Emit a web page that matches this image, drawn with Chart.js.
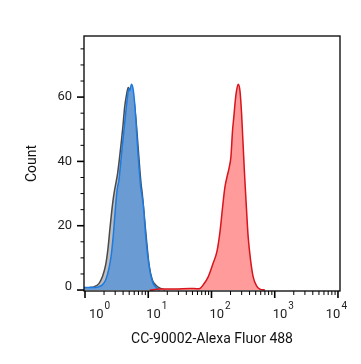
<!DOCTYPE html>
<html>
<head>
<meta charset="utf-8">
<script src="https://cdn.jsdelivr.net/npm/chart.js@4.4.1/dist/chart.umd.min.js"></script>
<style>
  body { margin: 0; background: #fff; }
</style>
</head>
<body>
<canvas id="histo" width="361" height="364"></canvas>
<script>
// unstained / isotype control (grey outline)
const grayX = [0.97, 1.20, 1.39, 1.66, 1.88, 2.12, 2.31, 2.48, 2.64, 2.80, 2.93, 3.06, 3.26, 3.51, 3.77, 3.98, 4.24, 4.56, 4.83, 5.05, 5.43, 5.94, 6.46, 6.88, 7.39, 7.75, 8.04, 8.55, 9.44, 10.3, 11.6, 13.1, 15.7, 18.4];
const grayY = [0.6, 0.8, 1.0, 2.0, 4.1, 7.8, 13, 19.2, 24.3, 28.5, 31, 33, 36, 41, 46.5, 51, 57, 61, 63, 62.5, 62, 59, 52, 45, 37, 32.5, 30, 24.3, 15, 7.8, 3.1, 1.6, 0.5, 0];

// negative cells (blue)
const blueX = [0.97, 1.29, 1.56, 1.88, 2.12, 2.39, 2.60, 2.80, 2.94, 3.12, 3.24, 3.44, 3.66, 3.88, 4.13, 4.40, 4.66, 4.90, 5.10, 5.43, 5.80, 6.10, 6.32, 6.56, 6.88, 7.21, 7.59, 7.95, 8.34, 9.10, 9.89, 10.9, 12.0, 13.1, 14.2, 15.3];
const blueY = [0.8, 0.8, 0.9, 1.6, 3.1, 6.7, 10.9, 17, 22.3, 28.5, 31.5, 34.2, 39.4, 44.6, 49.7, 55, 59.5, 62.5, 62.0, 64.0, 62.2, 58, 53.9, 48.7, 42.5, 37.3, 32.1, 29.5, 26.4, 17, 10, 4.7, 2, 1, 0.3, 0];

// stained cells (red)
const redX = [10.6, 15.3, 26.4, 45.6, 58.8, 65.6, 73.9, 88.7, 106, 122, 136, 150, 163, 175, 190, 203, 215, 226, 238, 249, 264, 281, 299, 310, 325, 337, 358, 380, 415, 456, 516, 582, 698];
const redY = [0, 0.3, 0.3, 0.5, 0.4, 0.5, 1.6, 4.1, 8.3, 12, 18, 25.9, 32, 35, 38, 41.5, 49.5, 54, 59, 62, 64, 62.2, 55, 48.7, 40.4, 34.2, 25, 16.6, 9.3, 4.1, 1.3, 0.3, 0];

const yMajor = [0, 20, 40, 60];
const yMinor = [5, 10, 15, 25, 30, 35, 45, 50, 55, 65, 70, 75];
const xDecades = [1, 10, 100, 1000, 10000];
const xExponents = ['0', '1', '2', '3', '4'];

const xTitle = 'CC-90002-Alexa Fluor 488';
const yTitle = 'Count';

function toPoints(xs, ys) {
    return xs.map((x, i) => ({ x: x, y: ys[i] }));
}

// frame, ticks and labels drawn from the chart's own scales
const axesPlugin = {
    id: 'flowAxes',
    afterDraw(chart) {
        const ctx = chart.ctx;
        const area = chart.chartArea;
        const xs = chart.scales.x;
        const ys = chart.scales.y;
        ctx.save();
        ctx.strokeStyle = '#000';
        ctx.fillStyle = '#222';

        // box
        ctx.lineWidth = 1.3;
        ctx.strokeRect(area.left, area.top, area.right - area.left, area.bottom - area.top);

        // y ticks
        ctx.font = '13px Roboto';
        ctx.textAlign = 'right';
        ctx.textBaseline = 'middle';
        yMajor.forEach(v => {
            const py = ys.getPixelForValue(v);
            ctx.lineWidth = 1.6;
            ctx.beginPath();
            ctx.moveTo(area.left - 7, py);
            ctx.lineTo(area.left, py);
            ctx.stroke();
            ctx.fillText(String(v), area.left - 12, v === 0 ? py - 3 : py);
        });
        ctx.lineWidth = 1;
        yMinor.forEach(v => {
            const py = ys.getPixelForValue(v);
            ctx.beginPath();
            ctx.moveTo(area.left - 3.5, py);
            ctx.lineTo(area.left, py);
            ctx.stroke();
        });

        // x ticks (log)
        xDecades.forEach((d, i) => {
            const px = xs.getPixelForValue(d);
            ctx.lineWidth = 1.6;
            ctx.beginPath();
            ctx.moveTo(px, area.bottom);
            ctx.lineTo(px, area.bottom + 7);
            ctx.stroke();
            if (i < xDecades.length - 1) {
                ctx.lineWidth = 1;
                for (let m = 2; m <= 9; m++) {
                    const mx = xs.getPixelForValue(d * m);
                    ctx.beginPath();
                    ctx.moveTo(mx, area.bottom);
                    ctx.lineTo(mx, area.bottom + 4);
                    ctx.stroke();
                }
            }
        });

        // x tick labels: 10 with raised exponent
        ctx.textAlign = 'left';
        ctx.textBaseline = 'alphabetic';
        xDecades.forEach((d, i) => {
            const px = xs.getPixelForValue(d);
            ctx.font = '13px Roboto';
            const baseW = ctx.measureText('10').width;
            ctx.font = '10px Roboto';
            const expW = ctx.measureText(xExponents[i]).width;
            const total = baseW + 1 + expW;
            let left = px - 2;
            if (left < area.left + 5) left = area.left + 5;
            if (left + total > area.right + 7) left = area.right + 7 - total;
            ctx.font = '13px Roboto';
            ctx.fillText('10', left, 318);
            ctx.font = '10px Roboto';
            ctx.fillText(xExponents[i], left + baseW + 1, 309);
        });

        // axis titles
        ctx.fillStyle = '#111';
        ctx.font = '14px Roboto';
        ctx.textAlign = 'center';
        ctx.textBaseline = 'middle';
        ctx.fillText(xTitle, (area.left + area.right) / 2, 339);
        ctx.translate(32, (area.top + area.bottom) / 2);
        ctx.rotate(-Math.PI / 2);
        ctx.fillText(yTitle, 0, 0);
        ctx.restore();
    }
};

const histoChart = new Chart(document.getElementById('histo'), {
    type: 'line',
    data: {
        datasets: [
            {
                label: 'Stained',
                data: toPoints(redX, redY),
                borderColor: '#d8141c',
                backgroundColor: '#ff9b9b',
                borderWidth: 1.5,
                fill: 'origin',
                order: 0
            },
            {
                label: 'Negative',
                data: toPoints(blueX, blueY),
                borderColor: '#1c7ae0',
                backgroundColor: '#6a9cd3',
                borderWidth: 1.5,
                fill: 'origin',
                order: 1
            },
            {
                label: 'Control',
                data: toPoints(grayX, grayY),
                borderColor: '#4a4a4a',
                backgroundColor: '#bdbdbd',
                borderWidth: 1.5,
                fill: 'origin',
                order: 2
            }
        ]
    },
    options: {
        responsive: false,
        animation: false,
        devicePixelRatio: 1,
        layout: {
            padding: { left: 84, right: 21, top: 36, bottom: 73 }
        },
        elements: {
            point: { radius: 0 },
            line: { cubicInterpolationMode: 'monotone' }
        },
        plugins: {
            legend: { display: false },
            tooltip: { enabled: false }
        },
        scales: {
            x: {
                type: 'logarithmic',
                min: 0.964,
                max: 10765,
                display: false
            },
            y: {
                type: 'linear',
                min: -0.3,
                max: 79,
                display: false
            }
        }
    },
    plugins: [axesPlugin]
});
</script>
</body>
</html>
